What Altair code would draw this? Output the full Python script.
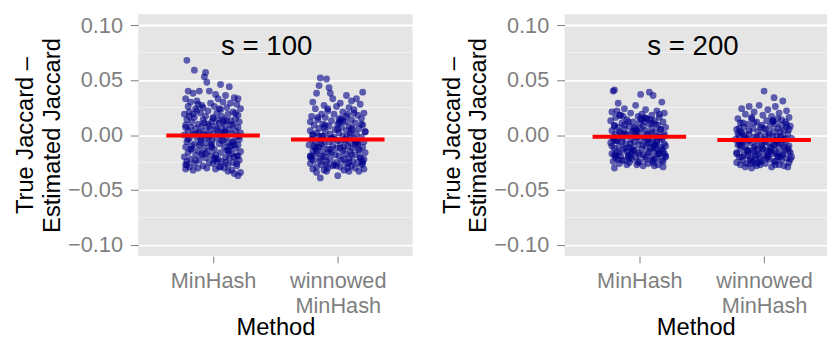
import altair as alt
import pandas as pd

# ---------------- data ----------------
methods = ["MinHash", "winnowed MinHash"]
panel_labels = ["s = 100", "s = 200"]

# jitter offsets (hundredths of a category step) and values (thousandths)
lm_dx = [-21,-15,-6,-7,-5,6,-20,-11,-3,13,-16,2,10,17,20,4,-22,-13,-18,8,14,-2,19,-9,-20,1,11,-14,22,6,-4,-19,16,-10,3,-23,12,20,-6,7,-15,0,18,-21,-8,9,14,-1,-17,21,5,-12,-4,16,-22,10,-9,2,20,-18,-14,7,13,-2,-20,-6,18,4,-11,22,9,-16,0,15,-23,-8,6,19,-3,-13,11,-19,3,21,-10,8,-1,16,-21,-6,12,-15,5,20,-11,-2,14,-22,9,-7,18,1,-17,11,-12,22,-4,6,-20,15,-9,2,-14,19,-1,-23,10,-6,13,-18,4,21,-11,7,-21,-3,16,-15,0,12,-22,19,-8,5,-19,-12,9,-22,2,15,-16,12,22,17,20,-5,-9,8,-17,17,-13,3,-1,10]
lm_y = [68,59,57,53,48,46,40,40,40,44,38,37,36,34,33,33,33,31,30,30,29,29,28,27,26,26,25,24,24,23,22,21,21,20,20,19,19,18,17,17,16,16,15,14,14,14,13,12,12,12,11,10,10,10,9,9,8,8,7,7,6,6,5,5,4,4,4,3,3,2,2,1,1,1,0,0,0,-1,-1,-2,-2,-3,-3,-4,-4,-5,-5,-6,-6,-7,-7,-8,-8,-9,-9,-10,-10,-11,-11,-12,-12,-13,-13,-14,-14,-15,-15,-16,-16,-17,-17,-18,-18,-19,-19,-20,-20,-21,-21,-22,-22,-23,-23,-24,-24,-25,-25,-26,-26,-27,-27,-28,-28,-29,-29,-30,-30,-31,-31,-32,-32,-33,-34,-35,-37,-30,-2,12,-10,-20,22,-24,-8,3]
lm_dx2 = [-12,5,18,-19,0,11,-7,15,-22,3,9,-15,21,-4,7,-10,17,-1,-18,13,-6,20,2,-14,10,-21,6,-9,16,-3,-16,12,1,-11,19,-8,4,-20,14,-5]
lm_y2 = [28,24,20,17,15,13,11,9,7,5,3,1,-1,-3,-5,-7,-9,-11,-13,-15,-17,-19,-21,-23,-25,-27,-29,-18,-6,8,19,-14,-22,2,-26,25,14,-4,-10,0]

lw_dx = [-14,-9,-15,-7,-17,-6,20,7,15,-4,11,-20,2,18,-11,-1,9,-18,13,-8,4,21,-13,-3,16,-21,7,-10,1,19,-16,11,-5,-22,6,14,-12,0,20,-19,9,-7,3,17,-15,-2,12,-22,7,-10,22,-17,1,15,-6,10,-20,-13,4,19,-3,-9,13,-21,6,-14,0,21,-7,10,-18,16,2,-11,-23,8,-4,20,-16,12,-1,-8,17,4,-20,-12,10,22,-5,-17,6,14,-2,-22,1,18,-10,9,-14,-6,21,3,-19,12,-9,-1,16,-22,7,-13,19,-4,11,-17,2,14,-8,21,-20,5,-11,-14,-9,0,-17,9,17,-21,5,-5,11,-12,14,2,-18,20,-3,8,-15]
lw_y = [52,51,45,43,38,38,39,36,33,33,31,30,29,28,27,26,25,24,23,22,21,20,19,19,18,17,17,16,15,15,14,14,13,12,12,11,10,10,9,9,8,8,7,6,6,5,5,4,4,3,3,2,2,1,1,0,0,-1,-1,-2,-2,-3,-3,-4,-4,-5,-5,-6,-6,-7,-7,-8,-8,-9,-9,-10,-10,-11,-11,-12,-12,-13,-13,-14,-14,-15,-15,-16,-16,-17,-17,-18,-18,-19,-19,-20,-20,-21,-21,-22,-22,-23,-23,-24,-24,-25,-25,-26,-26,-27,-27,-28,-28,-29,-29,-30,-30,-31,-31,-32,-32,-39,-33,-37,-34,-33,-33,-22,-11,-3,6,-19,-6,13,-12,-24,-27,19,-1]
lw_dx2 = [-8,13,-16,4,19,-11,0,10,-20,7,-3,15,-13,-19,2,17,-7,11,-22,5,-14,20,-1,8,-17,14,-5,22,-10,3,-21,9,-6,16,-12,1,18,-9,6,-15]
lw_y2 = [24,20,16,13,10,7,5,2,0,-2,-4,-6,-8,-10,-12,-14,-16,-18,-20,-22,-24,-26,-28,-30,-15,-9,-3,3,9,15,-19,-25,-13,-7,-1,11,-21,-27,-5,-11]

rm_dx = [-20,-21,8,1,11,-17,18,-3,-12,5,14,-22,-7,20,2,-16,10,-1,-19,16,6,-10,-23,12,-5,19,0,-14,8,-20,15,-8,3,21,-17,10,-3,-12,17,-22,5,-6,13,-15,0,20,-19,8,-10,15,-2,-21,4,11,-13,18,-7,1,-18,14,-4,7,-23,20,-11,-1,12,-16,5,17,-8,-20,9,2,-13,19,-5,13,-18,-1,7,-22,16,-9,3,21,-15,10,-3,-19,14,-6,5,-12,18,0,-21,11,-8,-16,7,15,-2,19,-20,-10,3,12,-14,9,-6,17,-18,4,-11,20,-4,13,-9,1,-16,6,-20,16,-2,10,-13,21]
rm_y = [41,40,39,37,36,29,30,27,24,23,22,21,20,20,19,18,18,17,16,16,15,14,13,13,12,12,11,11,10,9,9,8,8,7,7,6,6,5,5,4,4,3,3,2,2,1,1,0,0,-1,-1,-2,-2,-3,-3,-4,-4,-5,-5,-6,-6,-7,-7,-8,-8,-9,-9,-10,-10,-11,-11,-12,-12,-13,-13,-14,-14,-15,-15,-16,-16,-17,-17,-18,-18,-19,-19,-20,-20,-21,-21,-22,-22,-23,-23,-24,-24,-25,-25,-26,-26,-27,-27,-29,-30,-27,-28,-28,-6,14,-16,-2,22,12,1,-17,7,-12,-20,15,3,-4,-18,19,4,-23,17,-10]
rm_dx2 = [-15,6,-9,13,-20,1,17,-5,10,-13,20,-2,7,-18,14,-7,3,-22,11,-11,18,-4,8,-16,15,0,-19,5,-8,12,-14,19,-1,-21,9,-6,16,-12,2,21,-17,6,-10,13,-3,-20,10,17,-7,4]
rm_y2 = [18,15,12,10,8,6,5,3,2,0,-1,-2,-4,-5,-6,-8,-9,-10,-11,-12,-13,-14,-15,-16,-17,-18,-19,-20,-21,-22,-23,-24,-25,-3,-7,-12,-17,9,14,-20,-22,1,-15,-9,4,-5,11,-2,-18,16]

rw_dx = [0,8,15,-12,-4,9,-18,3,18,-8,12,-15,-1,6,20,-21,-10,14,2,-6,17,-19,9,-13,-2,21,5,-16,11,-9,-22,1,16,-5,8,-18,-12,19,4,-3,13,-20,-8,7,-14,22,0,-23,10,-6,17,-17,3,-11,14,-2,-21,8,20,-7,-15,5,-1,12,-19,17,-9,2,-13,9,21,-4,-22,6,15,-16,-7,0,11,-20,18,-11,4,-3,-17,14,8,-9,-22,20,1,-14,12,-19,-6,16,-10,6,19,-15,9,-2,-18,13,-5,3,-12,16,-8,10,-20,7,-3,22,-13,1,18,-7,4,-16,11]
rw_y = [40,34,31,26,27,26,24,23,22,21,20,19,18,17,16,15,15,14,13,12,12,11,10,10,9,8,8,7,6,6,5,5,4,3,3,2,1,1,0,0,-1,-1,-2,-2,-3,-3,-4,-4,-5,-5,-6,-6,-7,-7,-8,-8,-9,-9,-10,-10,-11,-11,-12,-12,-13,-13,-14,-14,-15,-15,-16,-16,-17,-17,-18,-18,-19,-19,-20,-20,-21,-21,-22,-22,-23,-23,-24,-24,-25,-25,-26,-26,-27,-27,-28,-28,-30,-29,-29,-29,-27,-24,-10,3,-13,-20,-5,-11,11,-17,6,13,-27,-20,-19,-1,7,-26,-15,-2,15]
rw_dx2 = [-10,7,-17,14,-3,20,-12,4,-21,10,-6,17,-15,1,12,-19,8,-8,19,-1,-14,5,-22,15,-5,11,-18,2,21,-11,9,-4,16,-20,6,-9,13,-16,0,18,-13,3,-7,10,-2,-19,14,-11,7,20]
rw_y2 = [16,13,11,9,7,5,4,2,1,-1,-2,-3,-5,-6,-7,-8,-9,-11,-12,-13,-14,-15,-16,-17,-18,-19,-20,-21,-22,-23,-24,-25,-4,-8,-12,-16,-20,0,6,10,-14,-18,-22,-6,-10,3,-2,-26,12,-15]

# mean of each method (red bars)
means_s100 = [-0.0005, -0.004]
means_s200 = [-0.0015, -0.0045]

y_ticks = [-0.10, -0.05, 0.00, 0.05, 0.10]
minor_ticks = [-0.075, -0.025, 0.025, 0.075]

# ---------------- styling constants ----------------
FONT = "Liberation Sans"
POS = [1, 2]          # category positions
HALF = 0.375          # half width of the mean bar
PX_PER_UNIT = 126.4
H = 245


def panel(label, groups, means, width, xmax):
    rows = []
    for pos, method, parts in zip(POS, methods, groups):
        for dxs, ys in parts:
            for dx, yv in zip(dxs, ys):
                rows.append({"x": pos + dx / 100.0, "y": yv / 1000.0, "method": method})
    pts = pd.DataFrame(rows)
    mdf = pd.DataFrame({"x": [p - HALF for p in POS], "x2": [p + HALF for p in POS],
                        "y": means, "method": methods})
    minor = pd.DataFrame({"y": minor_ticks})
    lab = pd.DataFrame({"x": [1.43], "y": [0.080], "t": [label]})

    xscale = alt.Scale(domain=[0.4, xmax], nice=False, zero=False)
    yscale = alt.Scale(domain=[-0.11, 0.11], nice=False, zero=False)

    xaxis = alt.Axis(values=POS, title="Method", grid=False, domain=False,
                     labelExpr="datum.value == 1 ? 'MinHash' : ['winnowed', 'MinHash']",
                     tickSize=7, labelPadding=8, labelLineHeight=25, titlePadding=0,
                     labelFlush=False)
    yaxis = alt.Axis(values=y_ticks, format=".2f", title=["True Jaccard \u2013", "Estimated Jaccard"],
                     grid=True, gridColor="white", gridWidth=1.8, domain=False,
                     tickSize=8, labelPadding=8, titlePadding=3, titleLineHeight=27)

    minor_layer = alt.Chart(minor).mark_rule(color="#F2F2F2", strokeWidth=1).encode(
        y=alt.Y("y:Q", scale=yscale, axis=yaxis))
    pt_layer = alt.Chart(pts).mark_circle(color="#00008B", opacity=0.6, size=48).encode(
        x=alt.X("x:Q", scale=xscale, axis=xaxis),
        y=alt.Y("y:Q", scale=yscale, axis=yaxis))
    mean_layer = alt.Chart(mdf).mark_rule(color="#FF0000", strokeWidth=4).encode(
        x=alt.X("x:Q", scale=xscale, axis=xaxis), x2="x2:Q",
        y=alt.Y("y:Q", scale=yscale, axis=yaxis))
    txt = alt.Chart(lab).mark_text(fontSize=28, font=FONT, color="black", baseline="middle").encode(
        x=alt.X("x:Q", scale=xscale, axis=xaxis),
        y=alt.Y("y:Q", scale=yscale, axis=yaxis), text="t:N")
    return alt.layer(minor_layer, pt_layer, mean_layer, txt).properties(width=width, height=H)


left = panel(panel_labels[0],
             [[(lm_dx, lm_y), (lm_dx2, lm_y2)], [(lw_dx, lw_y), (lw_dx2, lw_y2)]],
             means_s100, 278, 2.6)
w2 = 266
right = panel(panel_labels[1],
              [[(rm_dx, rm_y), (rm_dx2, rm_y2)], [(rw_dx, rw_y), (rw_dx2, rw_y2)]],
              means_s200, w2, 0.4 + w2 / PX_PER_UNIT)

chart = alt.hconcat(left, right, spacing=27).properties(
    padding={"left": 6, "top": 4, "right": 0, "bottom": 0}
).configure(font=FONT).configure_view(fill="#E5E5E5", strokeWidth=0).configure_axis(
    labelFont=FONT, labelFontSize=22, labelColor="#7F7F7F", tickColor="#7F7F7F",
    titleFont=FONT, titleFontSize=24, titleColor="black", titleFontWeight="normal"
)

chart.save("out.html", embed_options={"renderer": "svg", "actions": False})
